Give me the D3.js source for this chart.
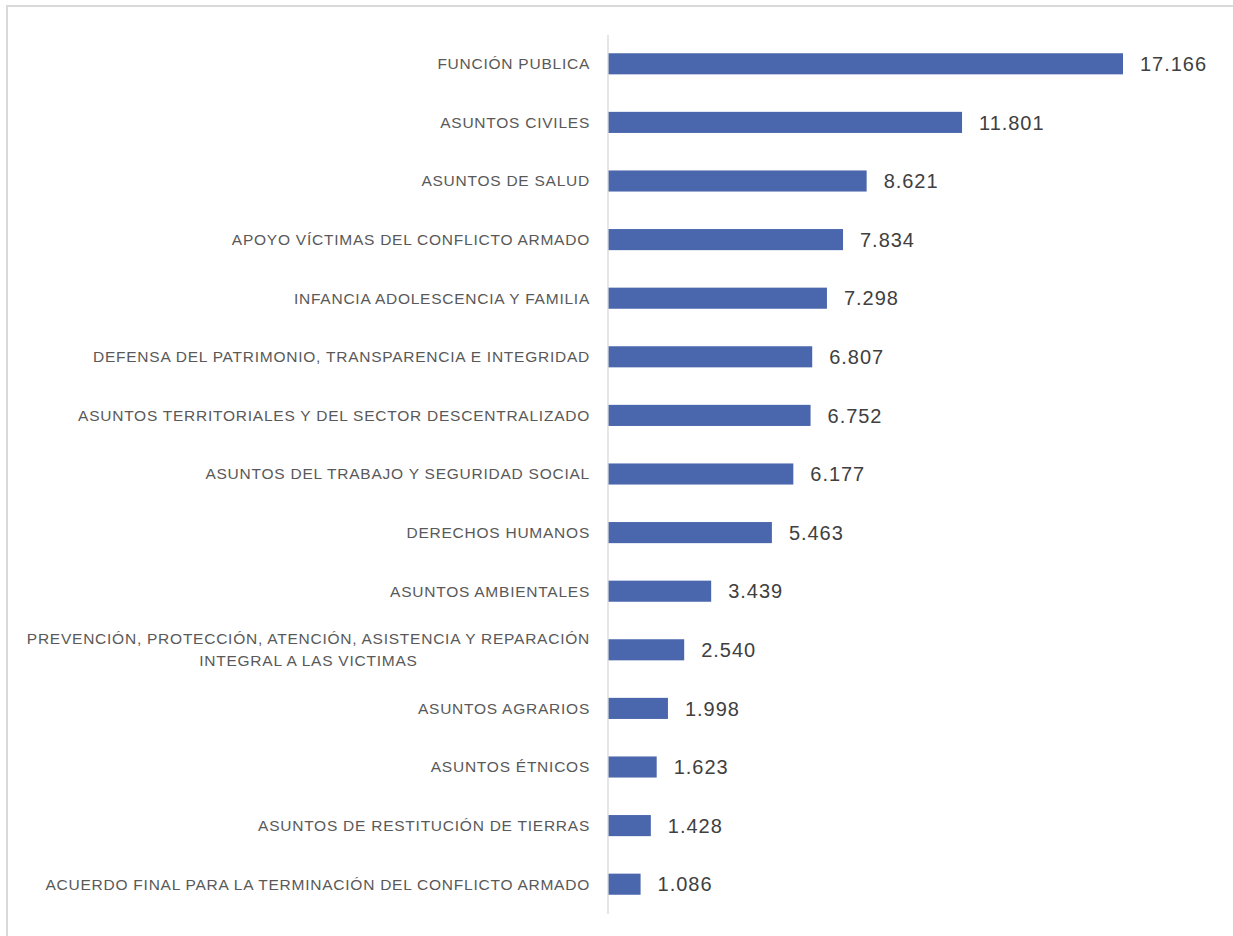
<!DOCTYPE html>
<html>
<head>
<meta charset="utf-8">
<script src="https://cdn.jsdelivr.net/npm/d3@7"></script>
<style>
  body { margin: 0; background: #fff; }
  svg { display: block; }
</style>
</head>
<body>
<div class="container"></div>
<script>
const categories = [
  "FUNCIÓN PUBLICA",
  "ASUNTOS CIVILES",
  "ASUNTOS DE SALUD",
  "APOYO VÍCTIMAS DEL CONFLICTO ARMADO",
  "INFANCIA ADOLESCENCIA Y FAMILIA",
  "DEFENSA DEL PATRIMONIO, TRANSPARENCIA E INTEGRIDAD",
  "ASUNTOS TERRITORIALES Y DEL SECTOR DESCENTRALIZADO",
  "ASUNTOS DEL TRABAJO Y SEGURIDAD SOCIAL",
  "DERECHOS HUMANOS",
  "ASUNTOS AMBIENTALES",
  "PREVENCIÓN, PROTECCIÓN, ATENCIÓN, ASISTENCIA Y REPARACIÓN|INTEGRAL A LAS VICTIMAS",
  "ASUNTOS AGRARIOS",
  "ASUNTOS ÉTNICOS",
  "ASUNTOS DE RESTITUCIÓN DE TIERRAS",
  "ACUERDO FINAL PARA LA TERMINACIÓN DEL CONFLICTO ARMADO"
];
const values = [17166, 11801, 8621, 7834, 7298, 6807, 6752, 6177, 5463, 3439, 2540, 1998, 1623, 1428, 1086];

let width = 1233, height = 936;
let left = 608;

let locale = d3.formatLocale({ decimal: ",", thousands: ".", grouping: [3], currency: ["$", ""] });
let fmt = locale.format(",d");

let svg = d3.select(".container")
  .append("svg")
  .attr("width", width)
  .attr("height", height);

// outer frame
svg.append("path")
  .attr("d", `M7,${height} V6 H${width}`)
  .attr("fill", "none")
  .attr("stroke", "#d9d9d9")
  .attr("stroke-width", 2);

let x = d3.scaleLinear()
  .domain([0, 17166])
  .range([left, 1123]);

let y = d3.scaleBand()
  .domain(categories)
  .range([34.5, 913.5])
  .paddingInner(0.64)
  .paddingOuter(0.32);

svg.selectAll(".bar")
  .data(values)
  .enter().append("rect")
  .attr("class", "bar")
  .attr("x", x(0))
  .attr("y", (d, i) => y(categories[i]))
  .attr("width", d => x(d) - x(0))
  .attr("height", y.bandwidth())
  .attr("fill", "#4a66ac");

// vertical axis line
let axis = svg.append("g")
  .attr("transform", `translate(${left - 0.5},0)`)
  .call(d3.axisLeft(y).tickSize(0).tickFormat(""));
axis.select(".domain").attr("stroke", "#d9d9d9").attr("stroke-width", 1.3);

// spread letters so text runs as wide as in the original
function spacingFor(str, font, size, target) {
  let t = svg.append("text").attr("font-family", font).attr("font-size", size).text(str);
  let w = t.node().getComputedTextLength();
  t.remove();
  return Math.max(0, (target - w) / str.length);
}
let font = "'Liberation Sans', Arial, sans-serif";
let labelSize = 15.5, valueSize = 20;
let labelSpacing = spacingFor(categories[5], font, labelSize, 497);
let valueSpacing = spacingFor("17.166", font, valueSize, 67);

// category labels
let labels = svg.selectAll(".label")
  .data(categories)
  .enter().append("text")
  .attr("class", "label")
  .attr("font-family", font)
  .attr("font-size", labelSize)
  .attr("letter-spacing", labelSpacing)
  .attr("fill", "#595959")
  .attr("y", d => y(d) + y.bandwidth() / 2);

labels.each(function(d) {
  let lines = d.split("|");
  let t = d3.select(this);
  if (lines.length === 1) {
    t.attr("x", 590).attr("text-anchor", "end").attr("dy", "0.35em").text(d);
  } else {
    let tmp = t.append("tspan").text(lines[0]);
    let w = tmp.node().getComputedTextLength();
    tmp.remove();
    let cx = 590 - w / 2;
    t.attr("text-anchor", "middle");
    lines.forEach((ln, k) => {
      t.append("tspan")
        .attr("x", cx)
        .attr("dy", k === 0 ? "-0.36em" : "1.4em")
        .text(ln);
    });
  }
});

// value labels
svg.selectAll(".value")
  .data(values)
  .enter().append("text")
  .attr("class", "value")
  .attr("x", d => x(d) + 17)
  .attr("y", (d, i) => y(categories[i]) + y.bandwidth() / 2)
  .attr("dy", "0.36em")
  .attr("font-family", font)
  .attr("font-size", valueSize)
  .attr("letter-spacing", valueSpacing)
  .attr("fill", "#404040")
  .text(d => fmt(d));
</script>
</body>
</html>
